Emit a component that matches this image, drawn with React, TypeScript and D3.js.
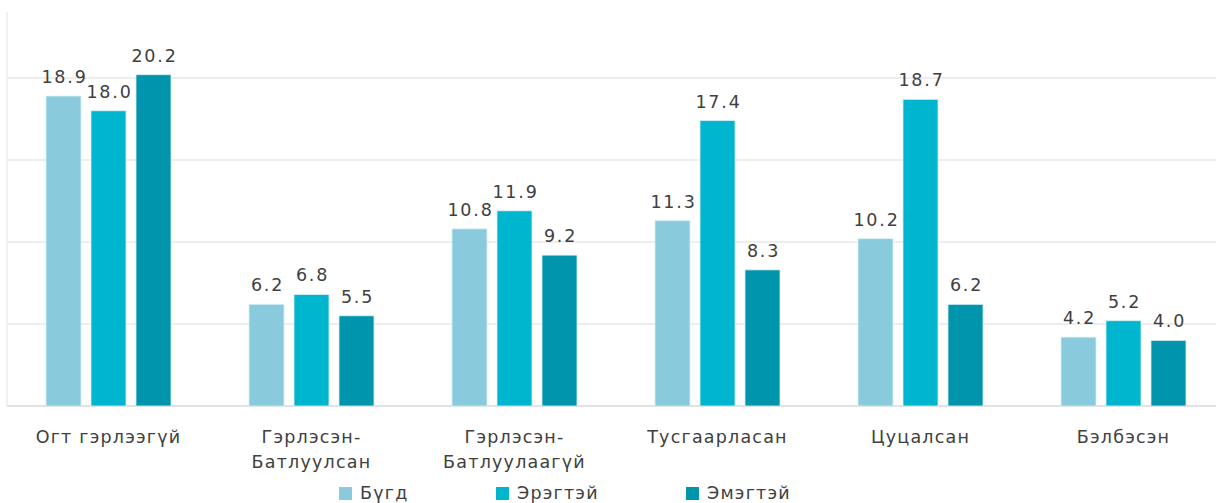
import * as d3 from 'd3';
import React from 'react';

const categories = [
  ['Огт гэрлээгүй'],
  ['Гэрлэсэн-', 'Батлуулсан'],
  ['Гэрлэсэн-', 'Батлуулаагүй'],
  ['Тусгаарласан'],
  ['Цуцалсан'],
  ['Бэлбэсэн'],
];
const seriesNames = ['Бүгд', 'Эрэгтэй', 'Эмэгтэй'];
const total = [18.9, 6.2, 10.8, 11.3, 10.2, 4.2];
const male = [18.0, 6.8, 11.9, 17.4, 18.7, 5.2];
const female = [20.2, 5.5, 9.2, 8.3, 6.2, 4.0];
const gridValues = [5, 10, 15, 20];

const colors = ['#89CBDC', '#00B5CE', '#0095AD'];
const seriesValues = [total, male, female];

export default function App() {
  const width = 1216, height = 503;
  const font = '"DejaVu Sans", sans-serif';
  const textColor = '#404040';

  // plot area
  const x0 = d3.scaleBand<number>().domain(d3.range(categories.length)).range([7, 1225]).paddingInner(0).paddingOuter(0);
  const x1 = d3.scaleBand<number>().domain([0, 1, 2]).range([39, 164]).paddingInner(0.222);
  const y = d3.scaleLinear().domain([0, 20]).range([406, 78]);

  const legendX = [339, 496, 686];

  return (
    <svg width={width} height={height} style={{ position: 'absolute', left: 0, top: 0 }}>
      <rect width={width} height={height} fill="#fff" />
      {gridValues.map(v => (
        <line key={v} x1={7} x2={width} y1={y(v)} y2={y(v)} stroke="#e8e8e8" strokeWidth={1.5} />
      ))}
      <line x1={7} x2={7} y1={12} y2={406} stroke="#ececec" strokeWidth={1.5} />
      <line x1={7} x2={width} y1={406} y2={406} stroke="#d9d9d9" strokeWidth={1.5} />
      {categories.map((cat, i) => (
        <g key={i} transform={`translate(${x0(i)},0)`}>
          {seriesValues.map((vals, s) => {
            const v = vals[i];
            const bx = x1(s)!;
            const bw = x1.bandwidth();
            return (
              <g key={s}>
                <rect x={bx} y={y(v)} width={bw} height={y(0) - y(v)} fill={colors[s]} stroke="#d6f0f5" strokeWidth={0.8} />
                <text x={bx + bw / 2 + 1} y={y(v) - 13} textAnchor="middle" fontFamily={font} fontSize={17.5}
                  letterSpacing={1.8} fill={textColor}>{v.toFixed(1)}</text>
              </g>
            );
          })}
          {cat.map((line, j) => (
            <text key={j} x={x0.bandwidth() / 2} y={443 + j * 25} textAnchor="middle" fontFamily={font}
              fontSize={17.5} letterSpacing={1.2} fill={textColor}>{line}</text>
          ))}
        </g>
      ))}
      {seriesNames.map((name, s) => (
        <g key={name} transform={`translate(${legendX[s]},487)`}>
          <rect x={0} y={0} width={13} height={13} fill={colors[s]} />
          <text x={21} y={12} fontFamily={font} fontSize={17.5} letterSpacing={1.2} fill={textColor}>{name}</text>
        </g>
      ))}
    </svg>
  );
}
